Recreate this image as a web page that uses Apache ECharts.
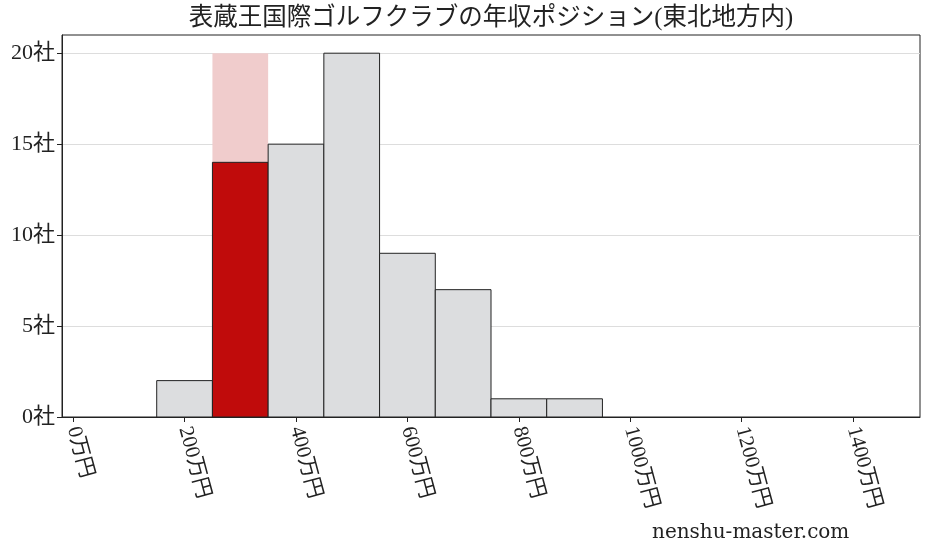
<!DOCTYPE html>
<html>
<head>
<meta charset="utf-8">
<script src="https://cdn.jsdelivr.net/npm/echarts@6/dist/echarts.min.js"></script>
<style>html,body{margin:0;padding:0;background:#fff}#c{width:928px;height:557px}</style>
</head>
<body>
<div id="c"></div>
<script>
const titleText = '表蔵王国際ゴルフクラブの年収ポジション(東北地方内)';
const binStarts = [150, 250, 350, 450, 550, 650, 750, 850];
const binEnds   = [250, 350, 450, 550, 650, 750, 850, 950];
const counts    = [2, 14, 15, 20, 9, 7, 1, 1];
const highlightIndex = 1;
const highlightTop = 20;
const xTickValues = [0, 200, 400, 600, 800, 1000, 1200, 1400];
const yTickValues = [0, 5, 10, 15, 20];

const FONT = "'Liberation Serif','Noto Sans CJK JP',serif";

const barData = binStarts.map((s, i) => [s, binEnds[i], counts[i], i === highlightIndex ? 1 : 0]);
const bgData = [[binStarts[highlightIndex], binEnds[highlightIndex], highlightTop]];
const gridLineData = yTickValues.filter(v => v > 0).map(v => [v]);

const chart = echarts.init(document.getElementById('c'), null, {renderer: 'canvas'});
chart.setOption({
  animation: false,
  backgroundColor: '#fff',
  graphic: [{
    type: 'text', x: 491, y: 6,
    style: {text: titleText, fontFamily: FONT, fontSize: 24.5, fill: '#222', textAlign: 'center', textVerticalAlign: 'top'}
  }, {
    type: 'text', left: 652, top: 523,
    style: {text: 'nenshu-master.com', fontFamily: "'DejaVu Serif',serif", fontSize: 20, fill: '#222'}
  }],
  grid: {left: 62, right: 8, top: 35, bottom: 140, show: true, borderColor: '#222', borderWidth: 1, backgroundColor: 'transparent'},
  xAxis: {
    type: 'value', min: -20, max: 1520,
    axisLine: {show: true, onZero: false, lineStyle: {color: '#222'}},
    axisTick: {show: true, customValues: xTickValues, length: 5, lineStyle: {color: '#222'}},
    axisLabel: {customValues: xTickValues, rotate: -75, formatter: v => v + '万円', fontFamily: FONT, fontSize: 21, color: '#222', margin: 10},
    splitLine: {show: false}
  },
  yAxis: {
    type: 'value', min: 0, max: 21,
    axisLine: {show: true, onZero: false, lineStyle: {color: '#222'}},
    axisTick: {show: true, customValues: yTickValues, length: 5, lineStyle: {color: '#222'}},
    axisLabel: {customValues: yTickValues, formatter: v => v + '社', fontFamily: FONT, fontSize: 22, color: '#222', margin: 7},
    splitLine: {show: false}
  },
  series: [
    {
      type: 'custom', data: gridLineData, z: 0, silent: true,
      renderItem: (params, api) => {
        const cs = params.coordSys;
        const p = api.coord([0, api.value(0)]);
        const y = Math.round(p[1]) + 0.5;
        return {type: 'line', shape: {x1: cs.x, y1: y, x2: cs.x + cs.width, y2: y},
          style: {stroke: '#dddddd', lineWidth: 1}};
      }
    },
    {
      type: 'custom', data: bgData, z: 1,
      renderItem: (params, api) => {
        const p0 = api.coord([api.value(0), api.value(2)]);
        const p1 = api.coord([api.value(1), 0]);
        return {type: 'rect', shape: {x: p0[0], y: p0[1], width: p1[0] - p0[0], height: p1[1] - p0[1]},
          style: {fill: '#f0cccc', stroke: null}};
      }
    },
    {
      type: 'custom', data: barData, z: 3,
      renderItem: (params, api) => {
        const p0 = api.coord([api.value(0), api.value(2)]);
        const p1 = api.coord([api.value(1), 0]);
        const hl = api.value(3) === 1;
        return {type: 'rect', shape: {x: p0[0], y: p0[1], width: p1[0] - p0[0], height: p1[1] - p0[1]},
          style: {fill: hl ? '#c00b0b' : '#dcdddf', stroke: '#222', lineWidth: 1}};
      }
    }
  ]
});
</script>
</body>
</html>
